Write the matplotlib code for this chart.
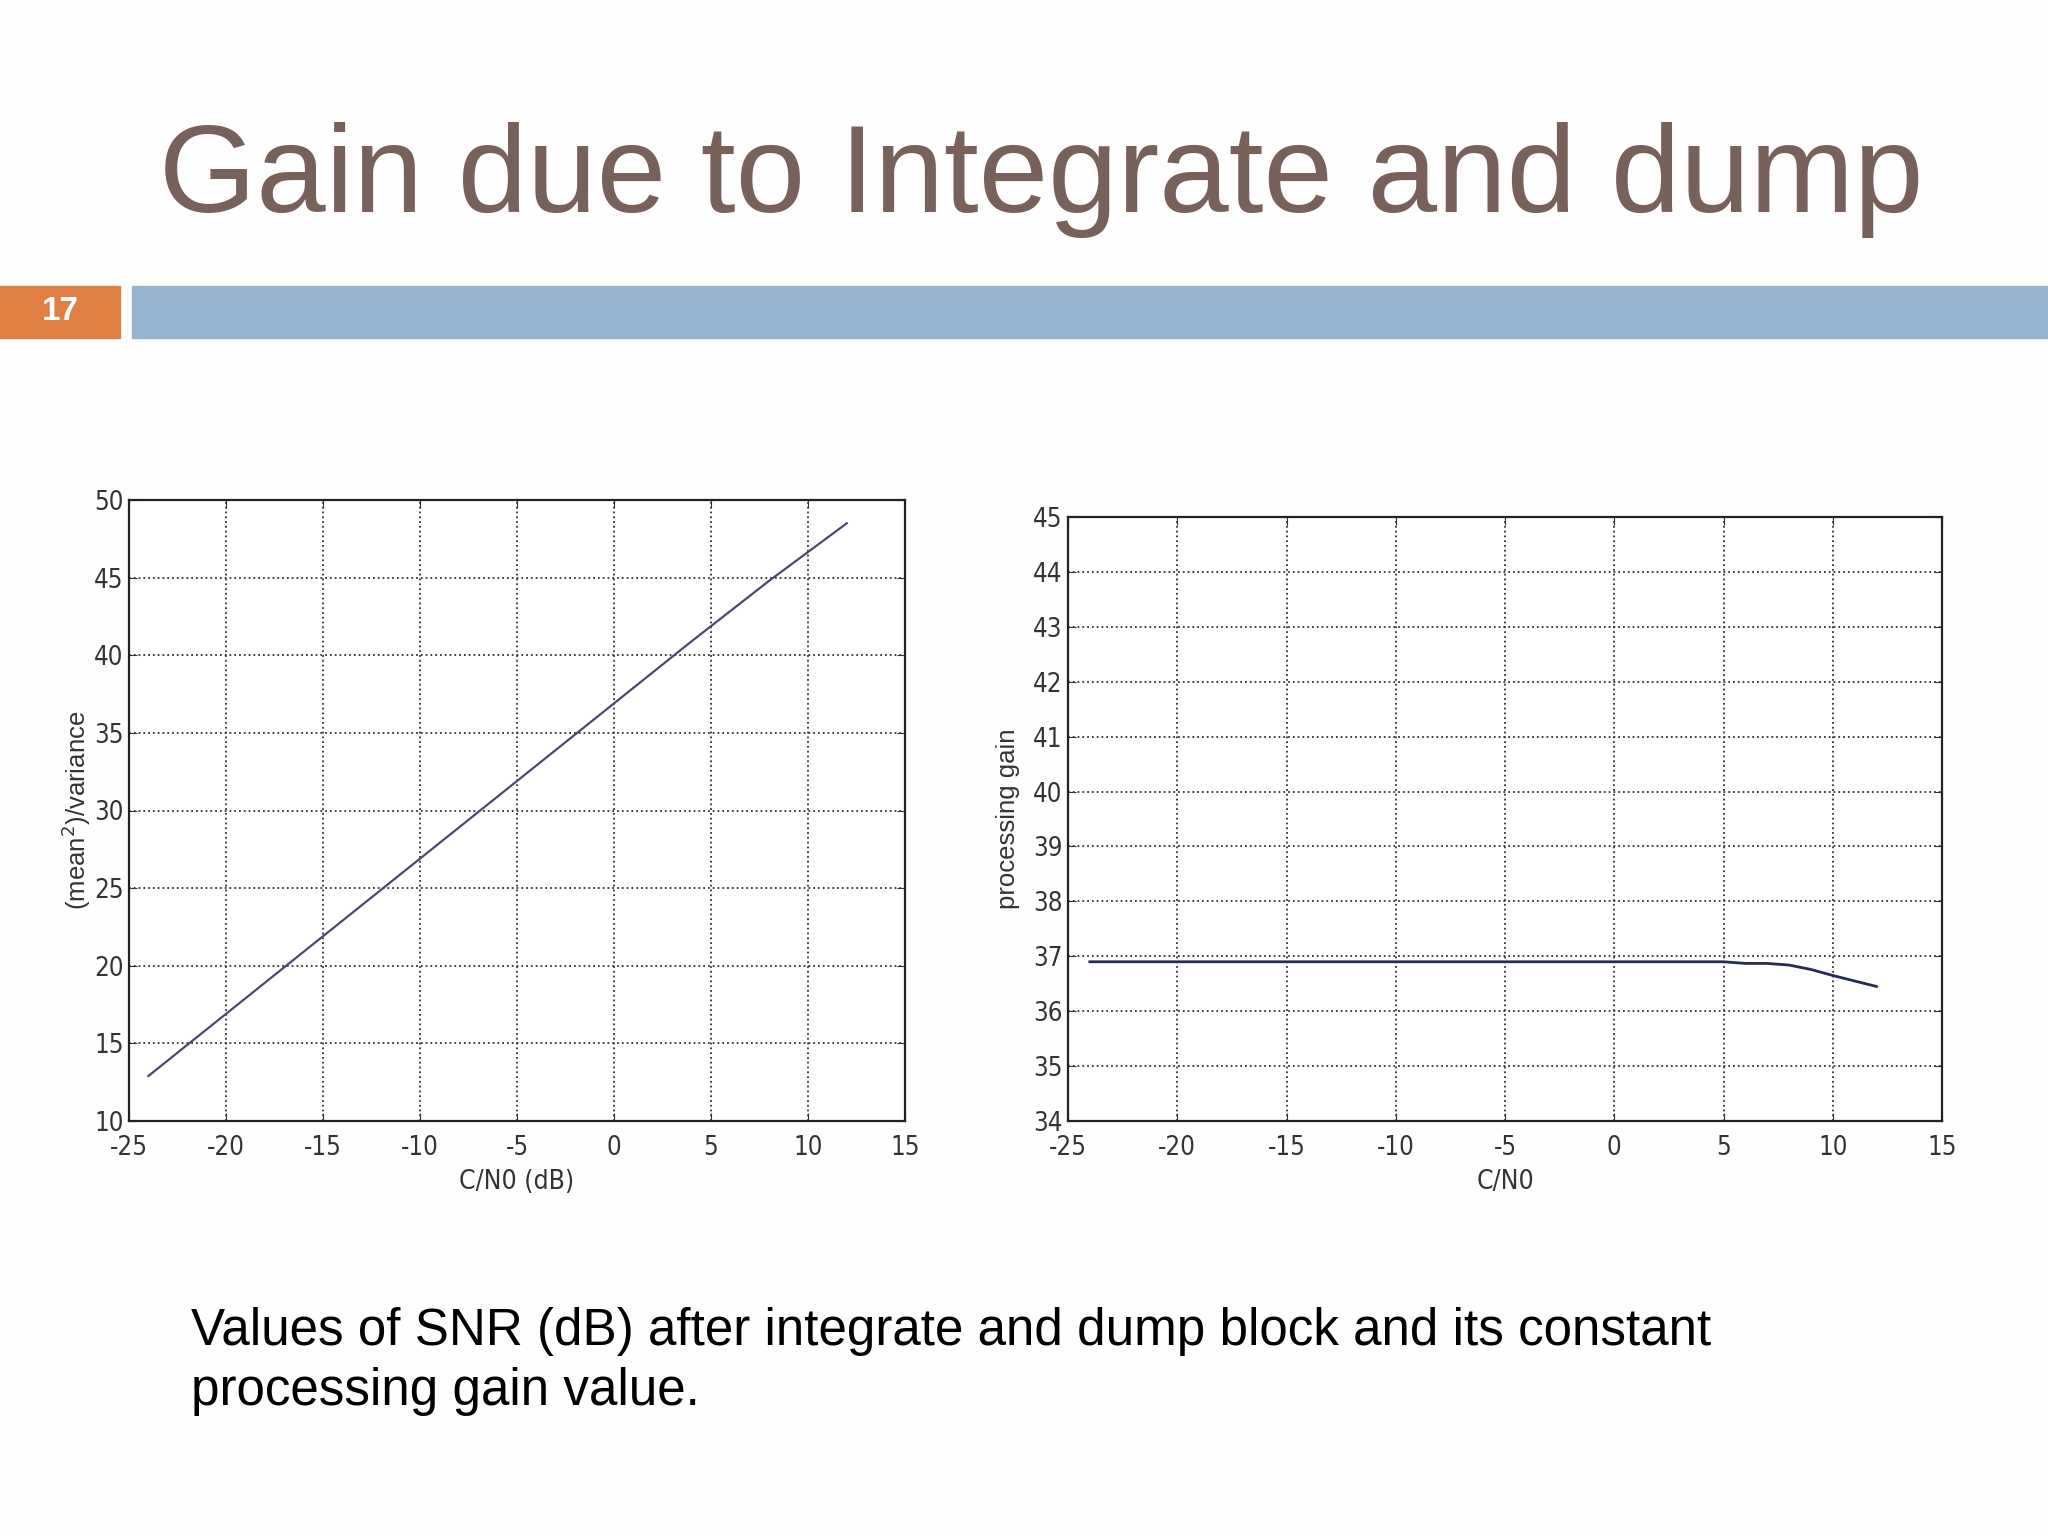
import matplotlib.pyplot as plt
from matplotlib.patches import Rectangle

# values
snr_x = [-24, -20, -16, -12, -8, -4, 0, 4, 8, 12]
snr_db = [12.9, 16.9, 20.9, 24.9, 28.9, 32.9, 36.9, 40.9, 44.8, 48.5]

gain_x = [-24, -20, -15, -10, -5, 0, 5, 6, 7, 8, 9, 10, 11, 12]
gain_db = [36.9, 36.9, 36.9, 36.9, 36.9, 36.9, 36.9, 36.87, 36.87, 36.84, 36.76, 36.65, 36.55, 36.45]

x_ticks = [-25, -20, -15, -10, -5, 0, 5, 10, 15]
left_yticks = [10, 15, 20, 25, 30, 35, 40, 45, 50]
right_yticks = list(range(34, 46))

title = "Gain due to Integrate and dump"
caption = ("Values of SNR (dB) after integrate and dump block and its constant\n"
           "processing gain value.")

plt.rcParams['axes.unicode_minus'] = False
sans = ['Liberation Sans', 'DejaVu Sans']

fig = plt.figure(figsize=(20.48, 15.36), dpi=100, facecolor='#fefefe')

# slide header
fig.text(0.5085, 1 - 212 / 1536, title, ha='center', va='baseline',
         fontsize=90, color='#77615a', family=sans)
fig.patches.append(Rectangle((0, 1 - 338 / 1536), 120 / 2048, 52 / 1536,
                             transform=fig.transFigure, color='#e07f43'))
fig.patches.append(Rectangle((132 / 2048, 1 - 338 / 1536), 1 - 132 / 2048, 52 / 1536,
                             transform=fig.transFigure, color='#94b3d1'))
fig.text(60 / 2048, 1 - 312 / 1536, "17", ha='center', va='center',
         fontsize=24, color='white', weight='bold', family=sans)

fig.text(191 / 2048, 1 - 1405 / 1536, caption, ha='left', va='baseline',
         fontsize=36.8, color='black', family=sans, linespacing=1.28)


def style(ax, yticks, ylabel, xlabel, label_x):
    ax.set_xlim(-25, 15)
    ax.set_xticks(x_ticks)
    ax.set_ylim(yticks[0], yticks[-1])
    ax.set_yticks(yticks)
    ax.grid(True, linestyle=':', color='#333333', linewidth=1.3)
    ax.tick_params(direction='in', top=True, right=True, length=6,
                   labelsize=18.5, colors='#333333')
    ax.tick_params(axis='x', pad=10)
    ax.tick_params(axis='y', pad=4)
    for lab in ax.get_xticklabels() + ax.get_yticklabels():
        lab.set_family('DejaVu Sans')
        lab.set_fontstretch('condensed')
    for s in ax.spines.values():
        s.set_linewidth(1.6)
        s.set_color('#222222')
    ax.set_ylabel(ylabel, fontsize=18.5, family=sans, color='#333333')
    ax.yaxis.set_label_coords(label_x, 0.5)
    ax.set_xlabel(xlabel, fontsize=19, family='DejaVu Sans', fontstretch='condensed',
                  color='#333333', labelpad=6)


ax1 = fig.add_axes([129 / 2048, 1 - 1121 / 1536, 776 / 2048, 621 / 1536])
ax1.plot(snr_x, snr_db, color='#4a4a6e', linewidth=1.6)
style(ax1, left_yticks, "(mean$^2$)/variance", "C/N0 (dB)", -0.046)

ax2 = fig.add_axes([1068 / 2048, 1 - 1121 / 1536, 874 / 2048, 604 / 1536])
ax2.plot(gain_x, gain_db, color='#262a5a', linewidth=2)
style(ax2, right_yticks, "processing gain", "C/N0", -0.055)

fig.savefig("out.png", dpi=100, facecolor=fig.get_facecolor())
